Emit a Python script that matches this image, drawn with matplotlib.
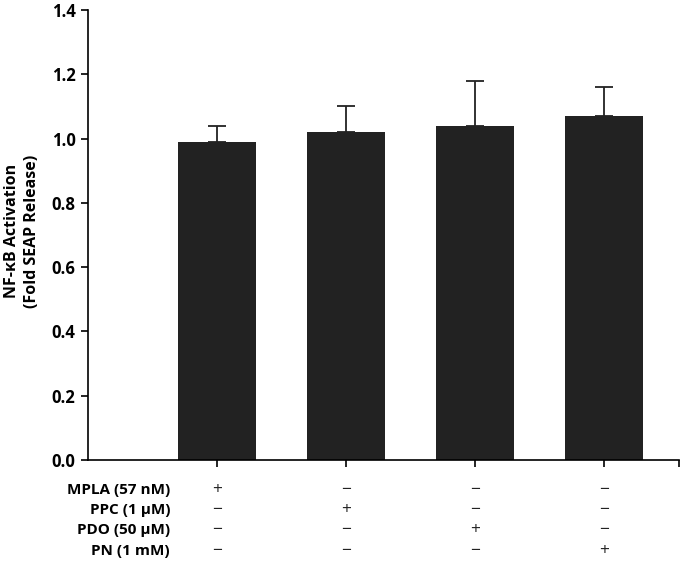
import matplotlib
matplotlib.use("Agg")
import matplotlib.pyplot as plt
import numpy as np

plt.rcParams['font.family'] = ['Open Sans', 'DejaVu Sans']

treatments = ["MPLA (57 nM)", "PPC (1 \u03bcM)", "PDO (50 \u03bcM)", "PN (1 mM)"]
values = [0.99, 1.02, 1.04, 1.07]
errors = [0.05, 0.08, 0.14, 0.09]
signs = [
    ["+", "\u2212", "\u2212", "\u2212"],
    ["\u2212", "+", "\u2212", "\u2212"],
    ["\u2212", "\u2212", "+", "\u2212"],
    ["\u2212", "\u2212", "\u2212", "+"],
]
yticks = [0.0, 0.2, 0.4, 0.6, 0.8, 1.0, 1.2, 1.4]

fig = plt.figure(figsize=(6.85, 5.63), dpi=100)
ax = fig.add_axes([88/685, 1 - 460/563, (679-88)/685, (460-10)/563])

x = np.arange(1, len(values) + 1)
ax.bar(x, values, width=0.6, color='#222222', zorder=2)
ax.errorbar(x, values, yerr=[np.zeros(len(errors)), errors], fmt='none',
            ecolor='#222222', elinewidth=1.3, capsize=6.5, capthick=1.3, zorder=1)

ax.set_xlim(0, (679-88)/129)
ax.set_ylim(0, 1.4)
ax.set_yticks(yticks)
ax.set_yticklabels([f"{t:.1f}" for t in yticks], fontsize=12, fontweight='bold')
ax.set_xticks(list(x) + [(679-88)/129])
ax.set_xticklabels([])
for s in ['top', 'right']:
    ax.spines[s].set_visible(False)
for s in ['left', 'bottom']:
    ax.spines[s].set_linewidth(1.2)
ax.tick_params(axis='both', direction='out', length=5, width=1.2, pad=4)

fig.text(22/685, 1 - 231/563, "NF-\u03baB Activation\n(Fold SEAP Release)",
         rotation=90, ha='center', va='center', fontsize=11.5,
         fontweight='bold', linespacing=1.25, multialignment='center')

row_y = [490, 510, 530, 551]
for i, (lab, ry) in enumerate(zip(treatments, row_y)):
    yf = 1 - ry/563
    fig.text(170/685, yf, lab, ha='right', va='center', fontsize=11, fontweight='bold')
    for j, xi in enumerate(x):
        xf = (88 + 129*xi)/685
        fig.text(xf, yf, signs[i][j], ha='center', va='center', fontsize=12.5,
                 color='#222222')

fig.savefig("out.png", dpi=100)
